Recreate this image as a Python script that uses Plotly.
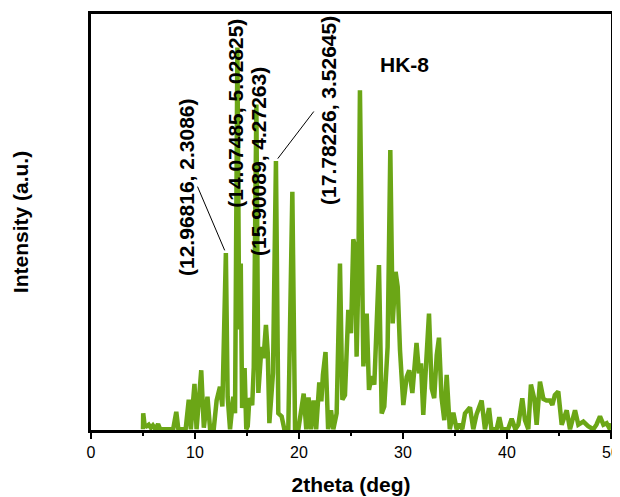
import plotly.graph_objects as go

# 2theta (deg) and intensity (a.u.)
two_theta = [5.0, 5.02, 5.15, 5.35, 5.55, 5.75, 5.95, 6.2, 6.45, 6.65, 7.2, 7.9, 8.2, 8.4, 9.1, 9.4, 9.6,
             9.95, 10.15, 10.6, 10.85, 11.2, 11.45, 11.8, 12.08, 12.4, 12.63, 12.96816, 13.14, 13.37,
             13.68, 13.85, 14.07485, 14.25, 14.4, 14.53, 14.77, 14.93, 15.07, 15.23, 15.5, 15.65,
             15.90089, 16.09, 16.39, 16.59, 16.82, 17.0, 17.15, 17.5, 17.78226, 18.01, 18.33, 18.59,
             18.97, 19.36, 19.62, 19.94, 20.45, 20.7, 20.92, 21.15, 21.4, 21.65, 21.95, 22.15, 22.3,
             22.55, 22.8, 23.08, 23.3, 23.62, 23.94, 24.17, 24.42, 24.74, 25.0, 25.22, 25.38, 25.54,
             25.7, 25.86, 26.19, 26.51, 26.73, 26.99, 27.24, 27.47, 27.69, 27.95, 28.2, 28.52, 28.78,
             29.01, 29.29, 29.49, 29.71, 30.03, 30.35, 30.6, 30.9, 31.3, 31.54, 31.73, 31.95, 32.17,
             32.5, 32.76, 33.0, 33.24, 33.46, 33.7, 33.97, 34.2, 34.5, 34.84, 35.16, 35.4, 35.7, 35.96,
             36.44, 36.76, 37.08, 37.56, 37.88, 38.27, 38.5, 39.0, 39.26, 39.5, 40.1, 40.45, 40.8,
             41.09, 41.47, 41.73, 42.05, 42.3, 42.63, 42.85, 43.17, 43.5, 43.8, 44.13, 44.36, 44.6,
             44.93, 45.26, 45.74, 46.06, 46.54, 46.86, 47.34, 47.8, 48.3, 48.6, 48.94, 49.27, 49.58,
             49.9, 50.0]
intensity = [-0.02, 0.19, 0.04, 0.02, 0.04, 0.0, 0.03, -0.02, 0.05, -0.02, -0.02, -0.02, 0.21, -0.02,
             -0.02, 0.37, -0.02, 0.58, -0.02, 0.76, 0.0, 0.41, -0.02, -0.02, 0.36, 0.54, 0.28, 2.3086,
             0.41, -0.02, 0.41, 0.19, 5.02825, 1.3, 2.17, 0.26, 0.79, -0.02, 0.02, 0.39, 0.3, 0.8,
             4.27263, 0.46, 1.07, 0.92, 1.36, 0.98, 0.06, 0.72, 3.52645, 0.19, 0.15, -0.02, -0.02,
             3.12, -0.02, -0.02, 0.45, -0.02, 0.4, -0.02, 0.36, -0.02, 0.6, 0.35, 0.7, 1.0, -0.02,
             0.23, -0.02, 0.19, 2.17, 0.37, 0.43, 1.56, 1.25, 2.49, 2.4, 0.94, 1.95, 4.46, 0.81, 1.51,
             0.5, 0.68, 0.57, 1.6, 2.15, 0.19, 0.28, 1.07, 3.67, 1.38, 2.06, 1.86, 1.03, 0.3, 0.67,
             0.76, 0.46, 1.12, 0.72, 0.85, 0.17, 0.72, 1.51, 0.52, 0.39, 0.96, 1.19, 0.41, 0.1, 0.7,
             -0.02, 0.2, -0.02, 0.05, -0.02, 0.19, 0.27, -0.02, 0.18, 0.36, -0.02, 0.26, -0.02, -0.02,
             0.14, -0.02, -0.02, 0.12, -0.02, 0.04, 0.39, 0.1, -0.02, 0.57, 0.38, 0.04, 0.61, 0.38,
             0.36, 0.36, 0.3, 0.43, 0.48, 0.04, 0.23, -0.02, 0.23, 0.04, 0.08, 0.02, -0.02, 0.04, 0.15,
             0.04, 0.06, -0.02, 0.06]

# labelled peaks
label_x = [12.96816, 14.07485, 15.90089, 17.78226]
label_y = [2.3086, 5.02825, 4.27263, 3.52645]
label_text = ["(12.96816, 2.3086)", "(14.07485, 5.02825)", "(15.90089, 4.27263)", "(17.78226, 3.52645)"]
label_shift_x = [-40, -2, 2, 52]
label_shift_y = [66, -66, -57, 51]
leader_on = [True, False, False, True]
leader_ax = [-29, 0, 0, 39]
leader_ay = [-68, 0, 0, -51]

series_name = "HK-8"
x_ticks = [0, 10, 20, 30, 40, 50]

LINE = "#6BA616"
FONT = "Liberation Sans, Arial, sans-serif"

fig = go.Figure()
fig.add_trace(go.Scatter(x=two_theta, y=intensity, mode="lines", name=series_name,
                         line=dict(color=LINE, width=4.5), showlegend=False))

ann = []
for lx, ly, t, sx, sy, lead, ax, ay in zip(label_x, label_y, label_text, label_shift_x,
                                           label_shift_y, leader_on, leader_ax, leader_ay):
    ann.append(dict(x=lx, y=ly, xref="x", yref="y", text=t, showarrow=False, textangle=-90,
                    xshift=sx, yshift=sy, font=dict(family=FONT, size=21, color="black", weight="bold")))
    if lead:
        ann.append(dict(x=lx, y=ly, xref="x", yref="y", text="", showarrow=True, arrowhead=0,
                        arrowwidth=1, arrowcolor="black", ax=ax, ay=ay, standoff=3))
ann.append(dict(x=0.603, y=0.91, xref="paper", yref="paper", text=series_name, showarrow=False,
                font=dict(family=FONT, size=21, color="black", weight="bold")))

# the page body adds an 8 px offset, so the figure is 8 px smaller on each axis
fig.update_layout(
    width=612, height=489,
    margin=dict(l=83, r=9, t=6, b=67),
    paper_bgcolor="white", plot_bgcolor="white",
    font=dict(family=FONT, color="black"),
    annotations=ann,
    xaxis=dict(range=[0, 50], tickvals=x_ticks, ticks="outside", ticklen=6, tickwidth=2,
               tickcolor="black", showline=True, linecolor="black", linewidth=3, mirror=True,
               showgrid=False, zeroline=False, tickfont=dict(size=16, family=FONT),
               automargin=False, ticklabeloverflow="allow",
               minor=dict(dtick=5, ticks="outside", ticklen=3, tickwidth=2, tickcolor="black"),
               title=dict(text="2theta (deg)", standoff=18,
                          font=dict(size=21, family=FONT, weight="bold"))),
    yaxis=dict(range=[-0.03, 5.47], showticklabels=False, ticks="", showline=True,
               linecolor="black", linewidth=3, mirror=True, showgrid=False, zeroline=False,
               automargin=False,
               title=dict(text="Intensity (a.u.)", standoff=54,
                          font=dict(size=21, family=FONT, weight="bold"))),
)

fig.write_html("out.html")
